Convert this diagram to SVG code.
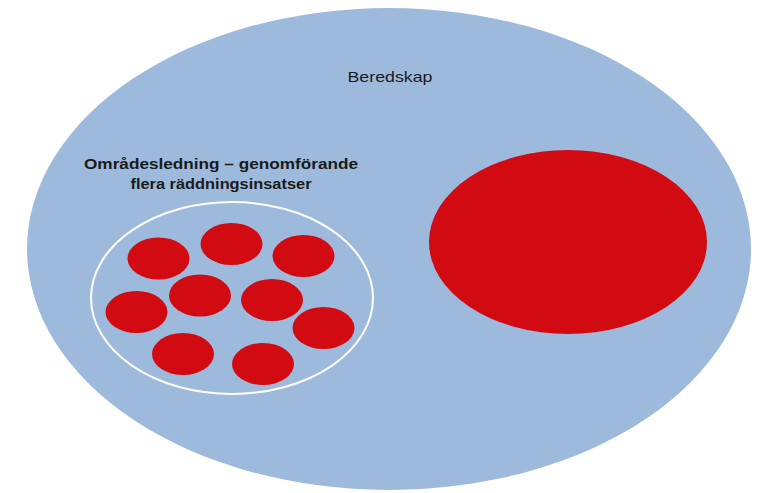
<svg xmlns="http://www.w3.org/2000/svg" width="760" height="493" viewBox="0 0 760 493">
<style>
.red{fill:#D20A11}
.lbl{font-family:"Liberation Sans",Arial,sans-serif;fill:#1a1a1a}
</style>
<rect width="760" height="493" fill="#ffffff"/>
<g id="beredskap">
<ellipse cx="389" cy="249" rx="362" ry="241" fill="#9DBADC"/>
<text class="lbl" x="390" y="82" font-size="15" text-anchor="middle" textLength="85" lengthAdjust="spacingAndGlyphs">Beredskap</text>
</g>
<g id="stor-insats">
<ellipse class="red" cx="568" cy="242" rx="139" ry="92"/>
</g>
<g id="omradesledning">
<text class="lbl" font-size="15" font-weight="bold" text-anchor="middle"><tspan x="221" y="169" textLength="274" lengthAdjust="spacingAndGlyphs">Områdesledning – genomförande</tspan><tspan x="221" y="189" textLength="181" lengthAdjust="spacingAndGlyphs">flera räddningsinsatser</tspan></text>
<ellipse cx="232" cy="298" rx="141" ry="96" fill="none" stroke="#ffffff" stroke-width="2"/>
</g>
<g id="insatser">
<ellipse class="red" cx="158.5" cy="258.5" rx="31" ry="21"/>
<ellipse class="red" cx="231.5" cy="244" rx="31" ry="21"/>
<ellipse class="red" cx="303.5" cy="256" rx="31" ry="21"/>
<ellipse class="red" cx="200" cy="295.5" rx="31" ry="21"/>
<ellipse class="red" cx="272" cy="300" rx="31" ry="21"/>
<ellipse class="red" cx="136.5" cy="312" rx="31" ry="21"/>
<ellipse class="red" cx="323.5" cy="328" rx="31" ry="21"/>
<ellipse class="red" cx="183" cy="354" rx="31" ry="21"/>
<ellipse class="red" cx="263" cy="364" rx="31" ry="21"/>
</g>
<g id="connectors"/>
</svg>
